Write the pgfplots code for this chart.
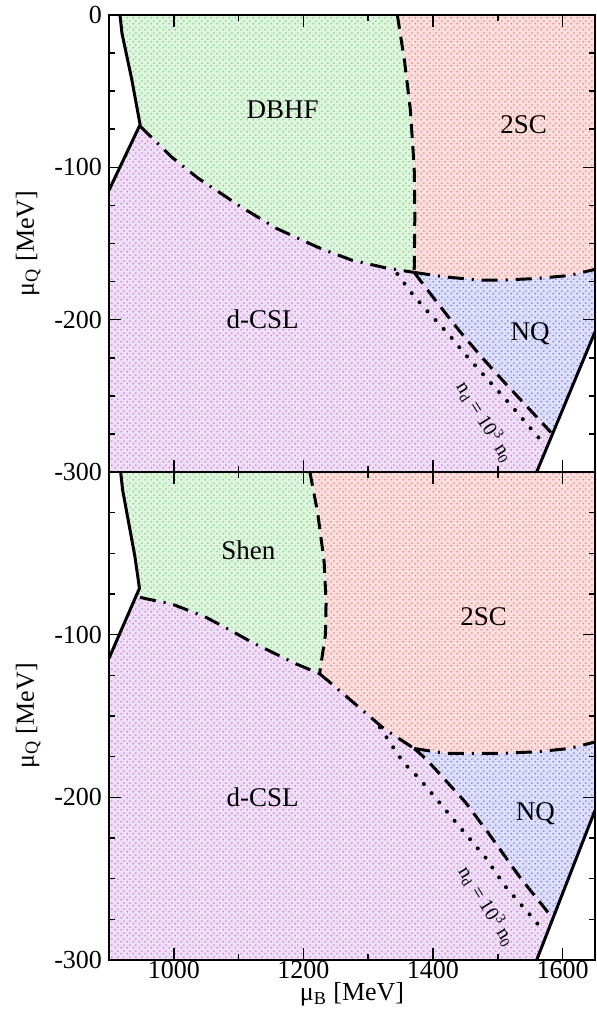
\documentclass[border=0pt]{standalone}
\usepackage{fontspec}
\setmainfont{Liberation Serif}
\usepackage{pgfplots}
\pgfplotsset{compat=1.18}
\usetikzlibrary{patterns}

% xmgrace-like dotted fill
\pgfdeclarepatternformonly{grace dots}{\pgfpointorigin}{\pgfpoint{3pt}{3pt}}{\pgfpoint{3pt}{3pt}}{%
  \pgfpathcircle{\pgfpoint{0.75pt}{0.75pt}}{0.5pt}%
  \pgfpathcircle{\pgfpoint{2.25pt}{2.25pt}}{0.5pt}%
  \pgfusepath{fill}}

\definecolor{gGreen}{RGB}{0,175,0}
\definecolor{gRed}{RGB}{255,0,0}
\definecolor{gViolet}{RGB}{148,0,211}
\definecolor{gBlue}{RGB}{0,0,255}

\pgfplotsset{
  panel/.style={
    scale only axis, width=243pt,
    xmin=900, xmax=1650, ymin=-300, ymax=0,
    axis on top,
    axis line style={line width=1pt},
    xtick={1000,1200,1400,1600}, minor x tick num=1,
    ytick={-300,-200,-100,0}, minor y tick num=3,
    major tick length=6pt, minor tick length=3pt,
    tick style={black, line width=0.8pt},
    tick align=inside,
    ticklabel style={font=\fontsize{13}{15}\selectfont},
    xticklabel style={yshift=3pt},
    label style={font=\fontsize{13}{15}\selectfont},
    xlabel style={yshift=5pt},
    ylabel={μ\textsubscript{Q} [MeV]},
  },
  region/.style={draw=none, fill=#1!13, postaction={pattern=grace dots, pattern color=#1!55}},
  solidline/.style={black, line width=1.5pt},
  dashline/.style={black, line width=1.5pt, dash pattern=on 7pt off 4pt},
  dashdot/.style={black, line width=1.5pt, dash pattern=on 8pt off 4pt on 1pt off 4pt},
  dotline/.style={black, line width=2pt, line cap=round, dash pattern=on 0pt off 6pt},
}

\begin{document}
\begin{tikzpicture}
\useasboundingbox (0,0) rectangle (298.5pt,510.5pt);

%% ---------- top panel: DBHF ----------
\begin{axis}[panel, at={(54.5pt,274.5pt)}, anchor=south west, height=228.5pt,
  xticklabels=\empty, yticklabels={-300,-200,-100,0}]
% regions
\addplot[region=gGreen] coordinates {(917,0) (920,-12) (935,-42) (948,-72)
  (996,-93) (1037,-107) (1083,-120) (1096,-124) (1158,-140) (1225,-153) (1275,-161) (1327,-166) (1371,-169)
  (1372,-130) (1371,-100) (1365,-62) (1356,-30) (1345,0)} -- cycle;
\addplot[region=gRed] coordinates {(1345,0) (1356,-30) (1365,-62) (1371,-100) (1372,-130) (1371,-169)
  (1420,-172) (1470,-174) (1506,-174) (1560,-173) (1610,-171) (1650,-167) (1650,0)} -- cycle;
\addplot[region=gBlue] coordinates {(1371,-169) (1420,-172) (1470,-174) (1506,-174) (1560,-173) (1610,-171) (1650,-167)
  (1650,-208) (1582,-274) (1545,-257) (1512,-242) (1476,-225) (1440,-207) (1405,-188)} -- cycle;
\addplot[region=gViolet] coordinates {(900,-115) (948,-72) (996,-93) (1037,-107) (1083,-120) (1096,-124) (1158,-140)
  (1225,-153) (1275,-161) (1327,-166) (1371,-169) (1405,-188) (1440,-207) (1476,-225) (1512,-242) (1545,-257)
  (1582,-274) (1560,-300) (900,-300)} -- cycle;
% boundaries
\addplot[solidline] coordinates {(917,0) (920,-12) (935,-42) (948,-72) (900,-115)};
\addplot[dashdot] coordinates {(948,-73) (996,-93) (1037,-107) (1083,-120) (1096,-124) (1158,-140)
  (1225,-153) (1275,-161) (1327,-166) (1371,-169)};
\addplot[dashline] coordinates {(1345,0) (1356,-30) (1365,-62) (1371,-100) (1372,-130) (1371,-169)};
\addplot[dashdot] coordinates {(1371,-169) (1420,-172) (1470,-174) (1506,-174) (1560,-173) (1610,-171) (1650,-167)};
\addplot[dashline] coordinates {(1371,-169) (1405,-188) (1440,-207) (1476,-225) (1512,-242) (1545,-257) (1582,-274)};
\addplot[dotline] coordinates {(1345,-170) (1366,-182) (1386,-192) (1425,-210) (1448,-222) (1486,-240)
  (1522,-257) (1550,-271) (1572,-282)};
\addplot[solidline] coordinates {(1560,-300) (1650,-208)};
% labels
\node[font=\fontsize{13.5}{15}\selectfont] at (axis cs:1168,-62) {DBHF};
\node[font=\fontsize{13.5}{15}\selectfont] at (axis cs:1540,-72) {2SC};
\node[font=\fontsize{13.5}{15}\selectfont] at (axis cs:1137,-200) {d-CSL};
\node[font=\fontsize{13.5}{15}\selectfont] at (axis cs:1550,-209) {NQ};
\node[rotate=-58, font=\fontsize{10}{12}\selectfont] at (axis cs:1481,-267)
  {n\textsubscript{d} = 10\textsuperscript{3} n\textsubscript{0}};
\end{axis}

%% ---------- bottom panel: Shen ----------
\begin{axis}[panel, at={(54.5pt,30.5pt)}, anchor=south west, height=244pt,
  xticklabels={1000,1200,1400,1600}, yticklabels={-300,-200,-100,{}},
  xlabel={μ\textsubscript{B} [MeV]}]
% regions
\addplot[region=gGreen] coordinates {(918,0) (921,-11) (940,-52) (947,-71.5) (948,-77) (958,-78) (996,-81)
  (1048,-89) (1086,-97) (1122,-105) (1189,-118) (1225,-124)
  (1234,-100) (1235,-80) (1232,-55) (1222,-25) (1210,0)} -- cycle;
\addplot[region=gRed] coordinates {(1210,0) (1222,-25) (1232,-55) (1235,-80) (1234,-100) (1225,-124)
  (1240,-129) (1281,-143) (1325,-158) (1371,-170)
  (1420,-173) (1503,-173) (1560,-172) (1610,-170) (1650,-166) (1650,0)} -- cycle;
\addplot[region=gBlue] coordinates {(1371,-170) (1420,-173) (1503,-173) (1560,-172) (1610,-170) (1650,-166)
  (1650,-208) (1584,-274) (1532,-248) (1491,-225) (1450,-203) (1409,-185) (1388,-176)} -- cycle;
\addplot[region=gViolet] coordinates {(900,-114.5) (947,-71.5) (948,-77) (958,-78) (996,-81) (1048,-89) (1086,-97)
  (1122,-105) (1189,-118) (1225,-124) (1240,-129) (1281,-143) (1325,-158) (1371,-170)
  (1388,-176) (1409,-185) (1450,-203) (1491,-225) (1532,-248) (1584,-274) (1560,-300) (900,-300)} -- cycle;
% boundaries
\addplot[solidline] coordinates {(918,0) (921,-11) (940,-52) (947,-71.5) (900,-114.5)};
\addplot[dashdot] coordinates {(948,-77) (958,-78) (996,-81) (1048,-89) (1086,-97) (1122,-105)
  (1189,-118) (1225,-124)};
\addplot[dashline] coordinates {(1210,0) (1222,-25) (1232,-55) (1235,-80) (1234,-100) (1225,-124)};
\addplot[dashdot] coordinates {(1225,-124) (1240,-129) (1281,-143) (1325,-158) (1371,-170)};
\addplot[dashdot] coordinates {(1371,-170) (1420,-173) (1503,-173) (1560,-172) (1610,-170) (1650,-166)};
\addplot[dashline] coordinates {(1371,-170) (1388,-176) (1409,-185) (1450,-203) (1491,-225) (1532,-248) (1584,-274)};
\addplot[dotline] coordinates {(1318,-157) (1355,-179) (1378,-188) (1399,-198) (1422,-209) (1445,-220)
  (1481,-237) (1512,-255) (1558,-276) (1571,-283)};
\addplot[solidline] coordinates {(1560,-300) (1650,-208)};
% labels
\node[font=\fontsize{13.5}{15}\selectfont] at (axis cs:1115,-48) {Shen};
\node[font=\fontsize{13.5}{15}\selectfont] at (axis cs:1478,-89) {2SC};
\node[font=\fontsize{13.5}{15}\selectfont] at (axis cs:1137,-200) {d-CSL};
\node[font=\fontsize{13.5}{15}\selectfont] at (axis cs:1558,-210) {NQ};
\node[rotate=-58, font=\fontsize{10}{12}\selectfont] at (axis cs:1484,-267)
  {n\textsubscript{d} = 10\textsuperscript{3} n\textsubscript{0}};
\end{axis}
\end{tikzpicture}
\end{document}
